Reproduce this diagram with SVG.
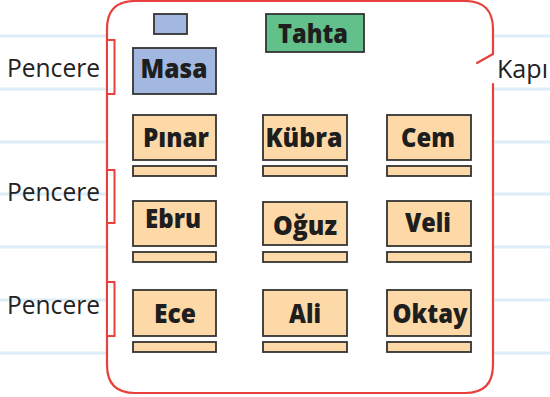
<svg xmlns="http://www.w3.org/2000/svg" width="550" height="397" viewBox="0 0 550 397">
<style>
.bg{fill:#ffffff}
.line{stroke:#dcedf8;stroke-width:3}
.wall{fill:none;stroke:#e8403c;stroke-width:2.2;stroke-linecap:round;stroke-linejoin:round}
.win{fill:#ffffff;stroke:#e8403c;stroke-width:2}
.box{stroke:#333333;stroke-width:1.8}
.desk{fill:#fdd9a8}
.masa{fill:#a3b8e0}
.tahta{fill:#62c08a}
.lbl{font-family:"Open Sans","Liberation Sans",sans-serif;font-size:26px;fill:#222222}
.name{font-family:"Open Sans","Liberation Sans",sans-serif;font-weight:800;font-size:27px;fill:#1e1e1e;text-anchor:middle}
</style>
<rect class="bg" x="0" y="0" width="550" height="397"/>
<g id="notebook-lines">
<line class="line" x1="0" y1="36" x2="107" y2="36"/>
<line class="line" x1="0" y1="89" x2="107" y2="89"/>
<line class="line" x1="0" y1="142" x2="107" y2="142"/>
<line class="line" x1="0" y1="194" x2="107" y2="194"/>
<line class="line" x1="0" y1="247" x2="107" y2="247"/>
<line class="line" x1="0" y1="300" x2="107" y2="300"/>
<line class="line" x1="0" y1="353" x2="107" y2="353"/>
<line class="line" x1="493" y1="36" x2="550" y2="36"/>
<line class="line" x1="493" y1="89" x2="550" y2="89"/>
<line class="line" x1="493" y1="142" x2="550" y2="142"/>
<line class="line" x1="493" y1="194" x2="550" y2="194"/>
<line class="line" x1="493" y1="247" x2="550" y2="247"/>
<line class="line" x1="493" y1="300" x2="550" y2="300"/>
<line class="line" x1="493" y1="353" x2="550" y2="353"/>
</g>
<g id="room">
<path class="wall" d="M493,54 L493,29 Q493,1 465,1 L135,1 Q107,1 107,29 L107,365 Q107,393 135,393 L465,393 Q493,393 493,365 L493,84"/>
<line class="wall" x1="493" y1="54" x2="477" y2="63"/>
</g>
<g id="windows">
<rect class="win" x="107" y="40" width="7.5" height="54"/>
<rect class="win" x="107" y="170" width="7.5" height="53"/>
<rect class="win" x="107" y="282" width="7.5" height="54"/>
</g>
<g id="labels">
<text class="lbl" x="7" y="77" textLength="93" lengthAdjust="spacingAndGlyphs">Pencere</text>
<text class="lbl" x="7" y="201" textLength="93" lengthAdjust="spacingAndGlyphs">Pencere</text>
<text class="lbl" x="7" y="314" textLength="93" lengthAdjust="spacingAndGlyphs">Pencere</text>
<text class="lbl" x="497" y="78" textLength="51" lengthAdjust="spacingAndGlyphs">Kapı</text>
</g>
<g id="teacher-chair"><rect class="box masa" x="154" y="14" width="33" height="20"/></g>
<g id="tahta"><rect class="box tahta" x="266" y="14" width="98" height="38"/><text class="name" x="313" y="43" textLength="70" lengthAdjust="spacingAndGlyphs">Tahta</text></g>
<g id="masa"><rect class="box masa" x="133" y="48" width="83" height="46"/><text class="name" x="174" y="78" textLength="67" lengthAdjust="spacingAndGlyphs">Masa</text></g>
<g id="pinar"><rect class="box desk" x="133" y="115" width="83" height="45"/><rect class="box desk" x="133" y="166" width="83" height="10"/><text class="name" x="176" y="147" textLength="66" lengthAdjust="spacingAndGlyphs">Pınar</text></g>
<g id="kubra"><rect class="box desk" x="263" y="115" width="84" height="45"/><rect class="box desk" x="263" y="166" width="84" height="10"/><text class="name" x="304" y="147" textLength="77" lengthAdjust="spacingAndGlyphs">Kübra</text></g>
<g id="cem"><rect class="box desk" x="387" y="115" width="84" height="45"/><rect class="box desk" x="387" y="166" width="84" height="10"/><text class="name" x="428" y="147" textLength="54" lengthAdjust="spacingAndGlyphs">Cem</text></g>
<g id="ebru"><rect class="box desk" x="133" y="201" width="83" height="45"/><rect class="box desk" x="133" y="252" width="83" height="10"/><text class="name" x="173" y="228" textLength="56" lengthAdjust="spacingAndGlyphs">Ebru</text></g>
<g id="oguz"><rect class="box desk" x="263" y="202" width="84" height="43"/><rect class="box desk" x="263" y="252" width="84" height="10"/><text class="name" x="305" y="235" textLength="64" lengthAdjust="spacingAndGlyphs">Oğuz</text></g>
<g id="veli"><rect class="box desk" x="387" y="201" width="84" height="45"/><rect class="box desk" x="387" y="252" width="84" height="10"/><text class="name" x="428" y="232" textLength="46" lengthAdjust="spacingAndGlyphs">Veli</text></g>
<g id="ece"><rect class="box desk" x="133" y="290" width="83" height="46"/><rect class="box desk" x="133" y="342" width="83" height="10"/><text class="name" x="175" y="323" textLength="42" lengthAdjust="spacingAndGlyphs">Ece</text></g>
<g id="ali"><rect class="box desk" x="263" y="290" width="84" height="46"/><rect class="box desk" x="263" y="342" width="84" height="10"/><text class="name" x="305" y="323" textLength="32" lengthAdjust="spacingAndGlyphs">Ali</text></g>
<g id="oktay"><rect class="box desk" x="387" y="290" width="84" height="46"/><rect class="box desk" x="387" y="342" width="84" height="10"/><text class="name" x="430" y="323" textLength="75" lengthAdjust="spacingAndGlyphs">Oktay</text></g>
</svg>
